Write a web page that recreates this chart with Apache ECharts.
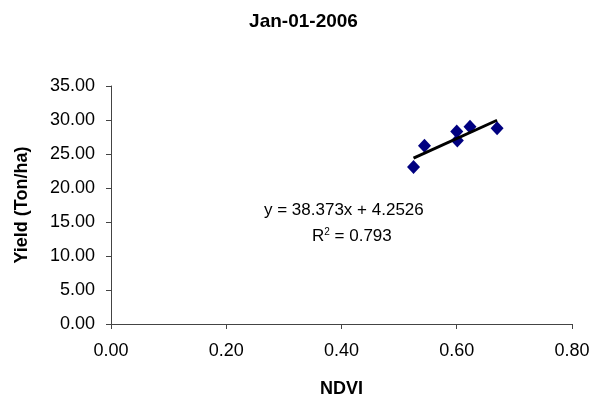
<!DOCTYPE html>
<html>
<head>
<meta charset="utf-8">
<script src="https://cdn.jsdelivr.net/npm/echarts@6/dist/echarts.min.js"></script>
<style>
html, body { margin: 0; padding: 0; background: #fff; }
#chart { width: 607px; height: 403px; }
</style>
</head>
<body>
<div id="chart"></div>
<script>
// 数据点 (NDVI, 产量)
var ndvi = [0.525, 0.544, 0.600, 0.601, 0.623, 0.670];
var yieldVals = [23.1, 26.2, 28.3, 27.0, 29.0, 28.8];
// 趋势线系数
var slope = 38.373;
var intercept = 4.2526;
var rSquared = 0.793;

var points = ndvi.map(function (x, i) { return [x, yieldVals[i]]; });
var xMin = Math.min.apply(null, ndvi);
var xMax = Math.max.apply(null, ndvi);
var trend = [[xMin, slope * xMin + intercept], [xMax, slope * xMax + intercept]];

var font = 'Liberation Sans, Arial, sans-serif';
var chart = echarts.init(document.getElementById('chart'));

chart.setOption({
    animation: false,
    title: {
        text: 'Jan-01-2006',
        left: 'center',
        top: 7,
        textStyle: { fontFamily: font, fontSize: 19, fontWeight: 'bold', color: '#000' }
    },
    grid: { left: 111, right: 35, top: 86, bottom: 77 },
    xAxis: {
        type: 'value', min: 0, max: 0.8, interval: 0.2,
        name: 'NDVI', nameLocation: 'middle', nameGap: 56,
        nameTextStyle: { fontFamily: font, fontSize: 18, fontWeight: 'bold', color: '#000' },
        axisLine: { onZero: false, lineStyle: { color: '#444', width: 1 } },
        axisTick: { show: true, length: 5, lineStyle: { color: '#444' } },
        axisLabel: { fontFamily: font, fontSize: 18, color: '#000', margin: 18,
            formatter: function (v) { return v.toFixed(2); } },
        splitLine: { show: false }
    },
    yAxis: {
        type: 'value', min: 0, max: 35, interval: 5,
        name: 'Yield (Ton/ha)', nameLocation: 'middle', nameGap: 80, nameRotate: 90,
        nameTextStyle: { fontFamily: font, fontSize: 18, fontWeight: 'bold', color: '#000' },
        axisLine: { show: true, lineStyle: { color: '#444', width: 1 } },
        axisTick: { show: true, length: 5, lineStyle: { color: '#444' } },
        axisLabel: { fontFamily: font, fontSize: 18, color: '#000', margin: 16,
            formatter: function (v) { return v.toFixed(2); } },
        splitLine: { show: false }
    },
    series: [{
        type: 'line',
        data: trend,
        symbol: 'none',
        lineStyle: { color: '#000', width: 3 },
        z: 3
    }, {
        type: 'scatter',
        data: points,
        symbol: 'diamond',
        symbolSize: [13, 14],
        itemStyle: { color: '#000080', opacity: 1 },
        z: 2
    }],
    graphic: [{
        type: 'text',
        left: 264, top: 202,
        style: {
            text: 'y = ' + slope + 'x + ' + intercept,
            font: '17px ' + font, fill: '#000'
        }
    }, {
        type: 'text',
        left: 312, top: 227,
        style: {
            text: '{r|R}{s|2}{r| = ' + rSquared + '}',
            rich: {
                r: { fontFamily: font, fontSize: 17, fill: '#000', verticalAlign: 'bottom' },
                s: { fontFamily: font, fontSize: 10, fill: '#000', verticalAlign: 'top', padding: [0, 0, 8, 0] }
            }
        }
    }]
});
</script>
</body>
</html>
